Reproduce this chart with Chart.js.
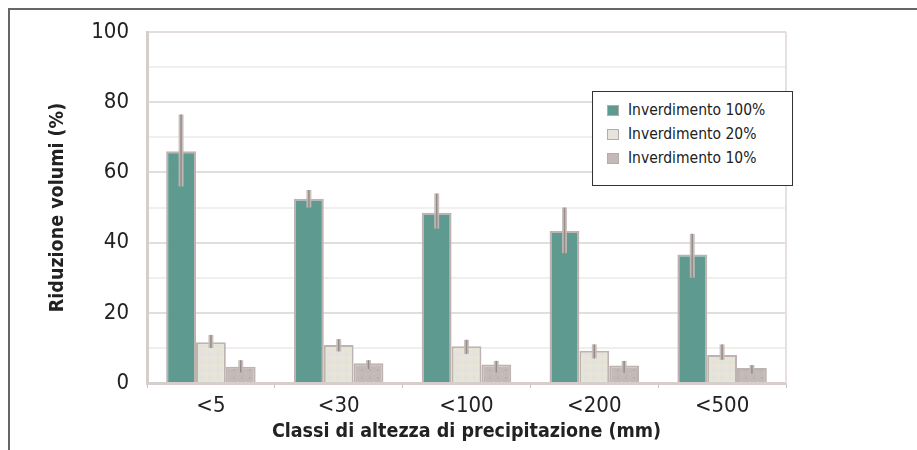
<!DOCTYPE html>
<html>
<head>
<meta charset="utf-8">
<script src="https://cdn.jsdelivr.net/npm/chart.js@4"></script>
<style>
	html, body { margin: 0; padding: 0; background: #fff; }
	#wrap { position: relative; width: 917px; height: 450px; }
	#frame { position: absolute; left: 8px; top: 8px; right: 0; bottom: 0; border-top: 2px solid #666; border-left: 2px solid #666; }
	#legend { position: absolute; left: 592px; top: 91px; width: 201px; height: 95px; border: 1px solid #333; background: #fff;
		font-family: 'DejaVu Sans Condensed', sans-serif; font-size: 15.5px; color: #222; box-sizing: border-box; padding-top: 6px; }
	#legend div { height: 24px; line-height: 24px; padding-left: 14px; }
	#legend span { display: inline-block; width: 10px; height: 9px; margin-right: 9px; vertical-align: -1px; }
</style>
</head>
<body>
<div id="wrap">
	<canvas id="chart" width="917" height="450"></canvas>
	<div id="frame"></div>
	<div id="legend"></div>
</div>
<script>
// Dati
const categorie = ['<5', '<30', '<100', '<200', '<500']
const serie = ['Inverdimento 100%', 'Inverdimento 20%', 'Inverdimento 10%']
const verde100 = [66, 52.5, 48.5, 43.3, 36.6]
const verde20 = [11.6, 10.8, 10.5, 9.2, 8.0]
const verde10 = [4.6, 5.6, 5.3, 5.0, 4.3]
const errAlto100 = [76.5, 55, 54, 50, 42.5]
const errBasso100 = [56, 50, 44, 37, 30]
const errAlto20 = [13.7, 12.5, 12.3, 11, 11]
const errBasso20 = [10, 9, 8.3, 7, 6.6]
const errAlto10 = [6.5, 6.5, 6.3, 6.3, 5.1]
const errBasso10 = [3, 4, 3, 2.9, 2.6]
const tickY = [0, 20, 40, 60, 80, 100]

const colori = ['#5f9a91', '#e5e3dc', '#c3b9b6']
const font = "'DejaVu Sans Condensed', sans-serif"

// Legenda
const legend = document.getElementById('legend')
serie.forEach((nome, i) => {
	const riga = document.createElement('div')
	riga.innerHTML = '<span style="background:' + colori[i] + ';border:1px solid #b5aba8"></span>' + nome
	legend.appendChild(riga)
})

// Trama puntinata per le barre chiare
function trama(base, punti) {
	const c = document.createElement('canvas')
	c.width = 8
	c.height = 8
	const g = c.getContext('2d')
	g.fillStyle = base
	g.fillRect(0, 0, 8, 8)
	g.fillStyle = punti[0]
	g.fillRect(1, 1, 2, 2)
	g.fillStyle = punti[1]
	g.fillRect(5, 5, 2, 2)
	return g.createPattern(c, 'repeat')
}

const errori = [
	[errAlto100, errBasso100],
	[errAlto20, errBasso20],
	[errAlto10, errBasso10],
]

// Barre di errore
const errorBars = {
	id: 'errorBars',
	afterDatasetsDraw(chart) {
		const ctx = chart.ctx
		const y = chart.scales.y
		chart.data.datasets.forEach((ds, d) => {
			const meta = chart.getDatasetMeta(d)
			meta.data.forEach((bar, i) => {
				const yh = y.getPixelForValue(errori[d][0][i])
				const yl = y.getPixelForValue(errori[d][1][i])
				ctx.save()
				ctx.strokeStyle = 'rgba(195,186,183,0.9)'
				ctx.lineWidth = 5
				ctx.beginPath()
				ctx.moveTo(bar.x, yh)
				ctx.lineTo(bar.x, yl)
				ctx.stroke()
				ctx.strokeStyle = '#958b89'
				ctx.lineWidth = 1.5
				ctx.beginPath()
				ctx.moveTo(bar.x, yh)
				ctx.lineTo(bar.x, yl)
				ctx.stroke()
				ctx.restore()
			})
		})
	},
	beforeDatasetsDraw(chart) {
		const a = chart.chartArea
		const ctx = chart.ctx
		ctx.save()
		ctx.strokeStyle = '#e6e1df'
		ctx.lineWidth = 2
		ctx.beginPath()
		ctx.moveTo(a.right, a.top)
		ctx.lineTo(a.right, a.bottom)
		ctx.stroke()
		ctx.restore()
	},
}

const ctx = document.getElementById('chart').getContext('2d')

new Chart(ctx, {
	type: 'bar',
	data: {
		labels: categorie,
		datasets: [
			{ label: serie[0], data: verde100, backgroundColor: colori[0] },
			{ label: serie[1], data: verde20, backgroundColor: trama(colori[1], ['#d6e3cf', '#efe6c2']) },
			{ label: serie[2], data: verde10, backgroundColor: trama(colori[2], ['#b9afac', '#c9c0bd']) },
		].map(ds => Object.assign(ds, {
			borderColor: '#bdb3b0',
			borderWidth: 2,
			borderSkipped: 'bottom',
			categoryPercentage: 0.7,
			barPercentage: 1,
		})),
	},
	options: {
		responsive: false,
		animation: false,
		layout: { padding: { left: 42, right: 131, top: 32, bottom: 2 } },
		plugins: { legend: { display: false }, tooltip: { enabled: false } },
		scales: {
			x: {
				afterFit: s => { s.height = 65 },
				grid: { display: true, drawOnChartArea: false, offset: true, tickLength: 5, color: '#c8c0bd' },
				border: { color: '#d5cecb', width: 3 },
				ticks: { color: '#222', font: { family: font, size: 22 }, padding: 5 },
				title: { display: true, text: 'Classi di altezza di precipitazione (mm)', color: '#222',
					font: { family: font, size: 19.5, weight: 'bold' }, padding: { top: 0 } },
			},
			y: {
				min: 0,
				max: 100,
				afterFit: s => { s.width = 105 },
				afterBuildTicks: scale => {
					scale.ticks = []
					for (let v = 0; v <= 100; v += 5) scale.ticks.push({ value: v })
				},
				grid: {
					drawTicks: false,
					color: c => (tickY.includes(c.tick.value) ? '#e3dedc' : '#f1efed'),
					lineWidth: 2,
				},
				border: { color: '#d5cecb', width: 3 },
				ticks: {
					color: '#222',
					font: { family: font, size: 22 },
					padding: 18,
					callback: v => (tickY.includes(v) ? v : ''),
				},
				title: { display: true, text: 'Riduzione volumi (%)', color: '#222',
					font: { family: font, size: 19.5, weight: 'bold' }, padding: { bottom: 8 } },
			},
		},
	},
	plugins: [errorBars],
})
</script>
</body>
</html>
